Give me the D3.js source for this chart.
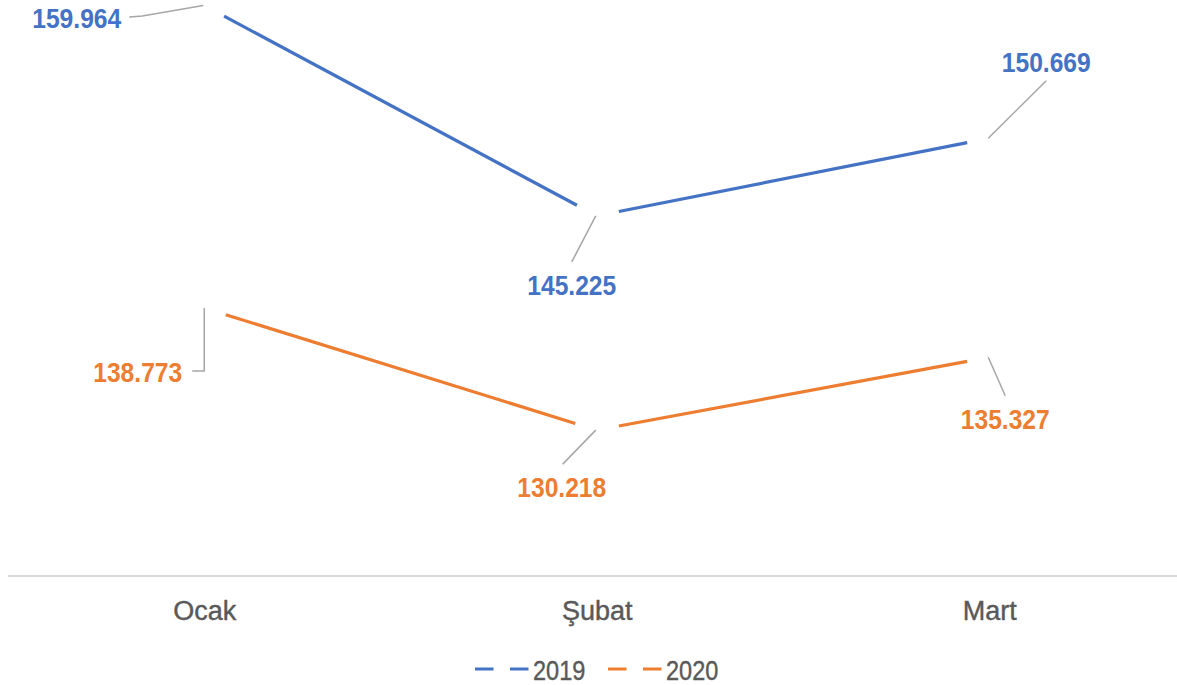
<!DOCTYPE html>
<html>
<head>
<meta charset="utf-8">
<script src="https://cdn.jsdelivr.net/npm/d3@7"></script>
<style>
  html, body { margin: 0; padding: 0; background: #ffffff; }
  svg { display: block; }
</style>
</head>
<body>
<svg id="chart" width="1177" height="685"></svg>
<script>
// ---- data ----
const categories = ["Ocak", "Şubat", "Mart"];
const seriesNames = ["2019", "2020"];
const values2019 = [159.964, 145.225, 150.669];
const values2020 = [138.773, 130.218, 135.327];
const labelTexts2019 = ["159.964", "145.225", "150.669"];
const labelTexts2020 = ["138.773", "130.218", "135.327"];

// ---- layout / style (not data) ----
const W = 1177, H = 685;
const colors = ["#4472C4", "#ED7D31"];
const leaderColor = "#A6A6A6";
const gapRadius = 22.5;
const labelFont = "'Liberation Sans', Arial, sans-serif";
const labelScaleX = 0.88;
// leader polylines (offsets from the point) and label anchor per point
const labelLayout = [
  [ // 2019
    { leader: [[-1, 0], [-62, 10.5], [-75, 11.5]], lx: -83, ly: 22.5, anchor: "end" },
    { leader: [[-1, 0], [-25, 46]], lx: -25, ly: 79.5, anchor: "middle" },
    { leader: [[-1, 0], [57, -57.5]], lx: 57, ly: -66, anchor: "middle" }
  ],
  [ // 2020
    { leader: [[0, 0], [0, 63], [-12, 63]], lx: -22, ly: 74, anchor: "end" },
    { leader: [[-1, 0], [-34, 34]], lx: -35, ly: 67, anchor: "middle" },
    { leader: [[-1, 0], [16, 38.5]], lx: 16, ly: 71.5, anchor: "middle" }
  ]
];

const svg = d3.select("#chart");
svg.append("rect").attr("width", W).attr("height", H).attr("fill", "#ffffff");

const x = d3.scalePoint().domain(categories).range([8, 1185.5]).padding(0.5);
const y = d3.scaleLinear().domain([120, 160]).range([576, 5]);

// baseline axis
const axisG = svg.append("g").attr("transform", `translate(0,${y(120)})`);
axisG.append("line")
  .attr("x1", 8).attr("x2", W)
  .attr("stroke", "#D9D9D9").attr("stroke-width", 2);
const xAxis = d3.axisBottom(x).tickSize(0).tickPadding(0);
const axG = svg.append("g").attr("transform", `translate(0,${y(120)})`).call(xAxis);
axG.select(".domain").remove();
axG.selectAll("text")
  .attr("dy", 0).attr("y", 44)
  .attr("fill", "#595959")
  .attr("stroke", "#595959").attr("stroke-width", 0.4)
  .style("font-family", labelFont)
  .style("font-size", "27px");

const allSeries = [values2019, values2020];
const allLabels = [labelTexts2019, labelTexts2020];

allSeries.forEach((vals, si) => {
  const pts = vals.map((v, i) => [x(categories[i]), y(v)]);
  const g = svg.append("g");
  // line segments with gaps around each point
  for (let i = 0; i < pts.length - 1; i++) {
    const [x0, y0] = pts[i], [x1, y1] = pts[i + 1];
    const d = Math.hypot(x1 - x0, y1 - y0);
    const ux = (x1 - x0) / d, uy = (y1 - y0) / d;
    g.append("line")
      .attr("x1", x0 + ux * gapRadius).attr("y1", y0 + uy * gapRadius)
      .attr("x2", x1 - ux * gapRadius).attr("y2", y1 - uy * gapRadius)
      .attr("stroke", colors[si]).attr("stroke-width", 3.2)
      .attr("stroke-linecap", "butt");
  }
  // leaders + labels
  pts.forEach((p, i) => {
    const lay = labelLayout[si][i];
    g.append("path")
      .attr("d", d3.line()(lay.leader.map(o => [p[0] + o[0], p[1] + o[1]])))
      .attr("fill", "none").attr("stroke", leaderColor).attr("stroke-width", 1.5);
    g.append("text")
      .attr("transform", `translate(${p[0] + lay.lx},${p[1] + lay.ly}) scale(${labelScaleX},1)`)
      .attr("text-anchor", lay.anchor)
      .attr("fill", colors[si])
      .style("font-family", labelFont)
      .style("font-weight", "bold")
      .style("font-size", "28px")
      .text(allLabels[si][i]);
  });
});

// legend
const legendItems = [
  { name: seriesNames[0], color: colors[0], x0: 475 },
  { name: seriesNames[1], color: colors[1], x0: 608 }
];
const lg = svg.append("g");
legendItems.forEach(it => {
  lg.append("line")
    .attr("x1", it.x0).attr("x2", it.x0 + 54)
    .attr("y1", 669).attr("y2", 669)
    .attr("stroke", it.color).attr("stroke-width", 3)
    .attr("stroke-dasharray", "18.5,16.5");
  lg.append("text")
    .attr("transform", `translate(${it.x0 + 58},680) scale(0.84,1)`)
    .attr("fill", "#595959")
    .attr("stroke", "#595959").attr("stroke-width", 0.4)
    .style("font-family", labelFont)
    .style("font-size", "28px")
    .text(it.name);
});
</script>
</body>
</html>
